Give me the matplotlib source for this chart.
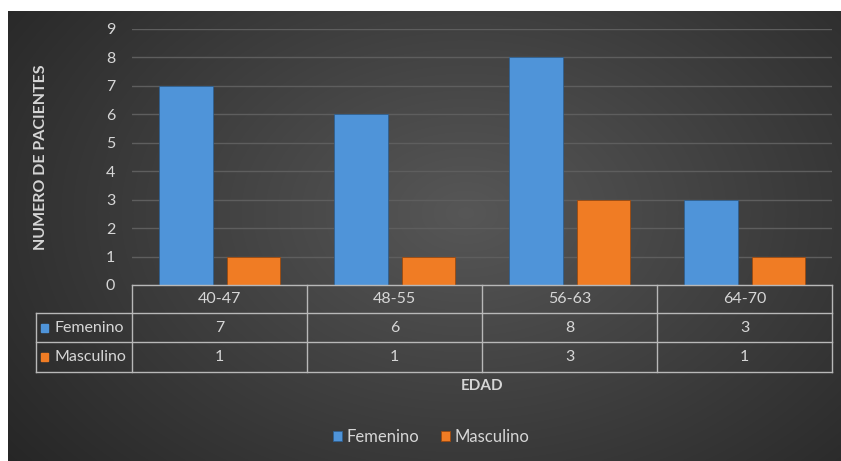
import numpy as np
import matplotlib
matplotlib.use("Agg")
import matplotlib.pyplot as plt
from matplotlib.patches import Rectangle

categories = ["40-47", "48-55", "56-63", "64-70"]
femenino = [7, 6, 8, 3]
masculino = [1, 1, 3, 1]
series_names = ["Femenino", "Masculino"]
y_ticks = list(range(0, 10))

BLUE = "#4f94d9"
ORANGE = "#f07c24"
TXT = "#d6d6d6"
W, H = 841, 461

plt.rcParams['font.family'] = ['Lato', 'DejaVu Sans']

fig = plt.figure(figsize=(W / 100, H / 100), dpi=100, facecolor="white")

def fx(px):
    return px / W

def fy(py):
    return 1 - py / H

# background gradient
bg = fig.add_axes([fx(8), 0, 1 - fx(8), fy(11)])
bg.set_axis_off()
nx, ny = 400, 220
xx, yy = np.meshgrid(np.linspace(0, 1, nx), np.linspace(0, 1, ny))
r = np.sqrt(((xx - 0.55) / 0.7) ** 2 + ((yy - 0.45) / 0.9) ** 2)
v = np.clip(0.34 - 0.19 * r, 0.14, 0.34)
img = np.dstack([v, v, v])
bg.imshow(img, aspect="auto", extent=[0, 1, 0, 1], interpolation="bilinear")
bg.set_xlim(0, 1)
bg.set_ylim(0, 1)

# main axes
left_px, right_px = 132, 832
zero_px, top_px = 285, 28.5
ax = fig.add_axes([fx(left_px), fy(zero_px), fx(right_px - left_px), fy(top_px) - fy(zero_px)])
ax.set_facecolor("none")
n = len(categories)
x = np.arange(n)
bw = 0.305
gap = 0.08
ax.bar(x - (bw + gap) / 2, femenino, width=bw, color=BLUE, edgecolor="#2f5f8f", linewidth=0.6, zorder=3, label=series_names[0])
ax.bar(x + (bw + gap) / 2, masculino, width=bw, color=ORANGE, edgecolor="#9a4a10", linewidth=0.6, zorder=3, label=series_names[1])
ax.set_xlim(-0.5, n - 0.5)
ax.set_ylim(0, 9)
ax.set_yticks(y_ticks)
ax.set_yticklabels([str(t) for t in y_ticks], color=TXT, fontsize=11.5)
ax.tick_params(axis="y", length=0, pad=12)
ax.set_xticks([])
ax.grid(axis="y", color="#5e5e5e", linewidth=1, zorder=0)
for s in ax.spines.values():
    s.set_visible(False)
ax.set_ylabel("NUMERO DE PACIENTES", color=TXT, fontsize=11.5, fontweight="bold", labelpad=42)

# data table
tleft, tright, ttop = 36, 832, 285
rows = [285, 313, 342, 372]
tax = fig.add_axes([fx(tleft), fy(rows[-1]), fx(tright - tleft), fy(rows[0]) - fy(rows[-1])])
tax.set_xlim(tleft, tright)
tax.set_ylim(rows[-1], rows[0])
tax.set_axis_off()
colw = (right_px - left_px) / n
lc = "#b8b8b8"
FS = 11.5
tax.plot([left_px, right_px], [rows[0], rows[0]], color=lc, lw=1, clip_on=False)
for ry in rows[1:]:
    tax.plot([tleft, right_px], [ry, ry], color=lc, lw=1, clip_on=False)
tax.plot([tleft, tleft], [rows[1], rows[3]], color=lc, lw=1, clip_on=False)
for i in range(n + 1):
    cx = left_px + i * colw
    tax.plot([cx, cx], [rows[0], rows[3]], color=lc, lw=1, clip_on=False)
for i, cat in enumerate(categories):
    cx = left_px + (i + 0.5) * colw
    tax.text(cx, (rows[0] + rows[1]) / 2, cat, color=TXT, fontsize=FS, ha="center", va="center")
    tax.text(cx, (rows[1] + rows[2]) / 2, str(femenino[i]), color=TXT, fontsize=FS, ha="center", va="center")
    tax.text(cx, (rows[2] + rows[3]) / 2, str(masculino[i]), color=TXT, fontsize=FS, ha="center", va="center")
for j, (name, col) in enumerate(zip(series_names, [BLUE, ORANGE])):
    cy = (rows[j + 1] + rows[j + 2]) / 2
    tax.add_patch(Rectangle((41, cy - 4), 7, 8, color=col, clip_on=False))
    tax.text(54, cy, name, color=TXT, fontsize=FS, ha="left", va="center")

fig.text(fx(482), fy(386), "EDAD", color=TXT, fontsize=11, fontweight="bold", ha="center", va="center")

leg = fig.legend(loc="center", bbox_to_anchor=(fx(431), fy(437)), ncol=2, frameon=False,
                 fontsize=12, labelcolor=TXT, handlelength=0.55, handleheight=0.55,
                 handletextpad=0.25, columnspacing=1.3)

fig.savefig("out.png", dpi=100, facecolor="white")
